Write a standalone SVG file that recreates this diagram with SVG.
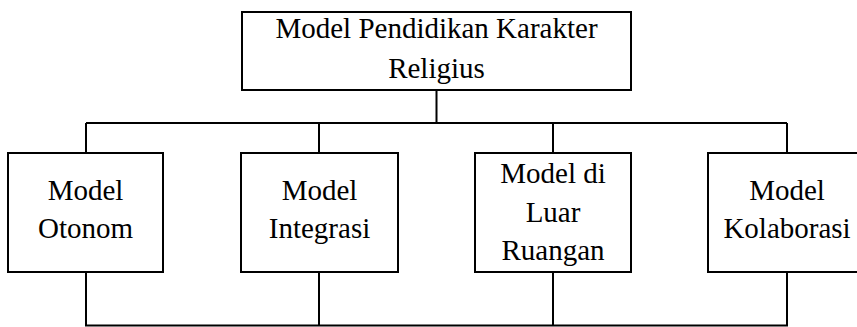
<svg xmlns="http://www.w3.org/2000/svg" width="857" height="327" viewBox="0 0 857 327">
<style>
.box{fill:#fff;stroke:#000;stroke-width:2}
.t{font-family:'Liberation Serif','Times New Roman',serif;font-size:29px;fill:#000;text-anchor:middle}
.c{fill:none;stroke:#000;stroke-width:2}
</style>
<rect width="857" height="327" fill="#fff"/>
<g id="connectors">
<path class="c" d="M436.5 90V123M86 123H787M86 123V153M319 123V153M553 123V153M787 123V153"/>
<path class="c" d="M86 272V325.5H787V272M319 272V325.5M553 272V325.5"/>
</g>
<g id="root">
<rect class="box" x="242" y="12" width="389" height="78"/>
<text class="t" x="436.5" y="38">Model Pendidikan Karakter</text>
<text class="t" x="436.5" y="78">Religius</text>
</g>
<g id="otonom">
<rect class="box" x="8" y="153" width="155" height="119"/>
<text class="t" x="85.5" y="200">Model</text>
<text class="t" x="85.5" y="238">Otonom</text>
</g>
<g id="integrasi">
<rect class="box" x="241" y="153" width="157" height="119"/>
<text class="t" x="319.5" y="200">Model</text>
<text class="t" x="319.5" y="238">Integrasi</text>
</g>
<g id="luar">
<rect class="box" x="475" y="153" width="156" height="119"/>
<text class="t" x="553" y="183">Model di</text>
<text class="t" x="553" y="222">Luar</text>
<text class="t" x="553" y="260">Ruangan</text>
</g>
<g id="kolaborasi">
<rect class="box" x="708" y="153" width="158" height="119"/>
<text class="t" x="787" y="200">Model</text>
<text class="t" x="787" y="238">Kolaborasi</text>
</g>
</svg>
